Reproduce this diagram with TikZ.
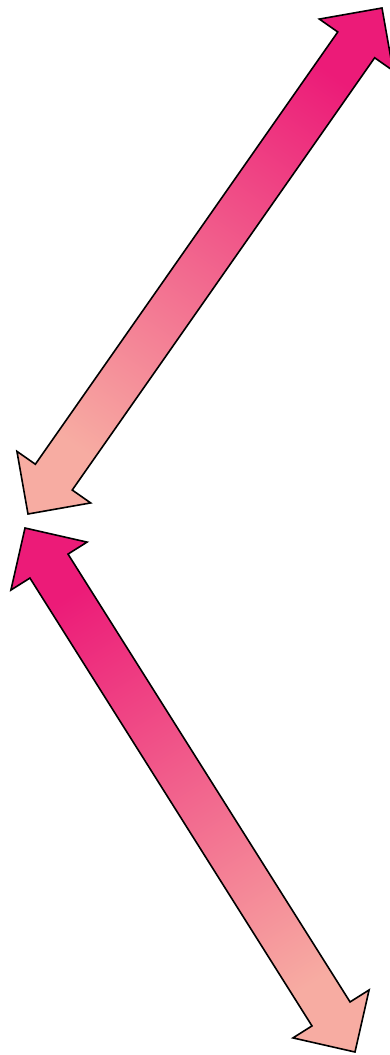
\documentclass[tikz,border=0pt]{standalone}
\usetikzlibrary{calc}
\definecolor{hotpink}{RGB}{236,27,120}
\definecolor{salmonlt}{RGB}{247,172,162}
\tikzset{
  arrowbody/.style={draw=black, line width=1.6pt, line join=miter, top color=hotpink, bottom color=salmonlt}
}
\newcommand\dblarrowpath[3]{%
  \path[arrowbody, shading angle=#3]
    (#1)
    -- ($($(#1)!45pt!(#2)$)!45pt!90:(#2)$)
    -- ($($(#1)!45pt!(#2)$)!22.5pt!90:(#2)$)
    -- ($($(#2)!45pt!(#1)$)!22.5pt!-90:(#1)$)
    -- ($($(#2)!45pt!(#1)$)!45pt!-90:(#1)$)
    -- (#2)
    -- ($($(#2)!45pt!(#1)$)!45pt!90:(#1)$)
    -- ($($(#2)!45pt!(#1)$)!22.5pt!90:(#1)$)
    -- ($($(#1)!45pt!(#2)$)!22.5pt!-90:(#2)$)
    -- ($($(#1)!45pt!(#2)$)!45pt!-90:(#2)$)
    -- cycle;}
\begin{document}
\begin{tikzpicture}[x=1pt,y=-1pt]
\useasboundingbox (0,0) rectangle (390,1055);
\coordinate (a1) at (382,8);
\coordinate (b1) at (28,514);
\coordinate (a2) at (25,528);
\coordinate (b2) at (355,1052);
\dblarrowpath{a1}{b1}{-35}
\dblarrowpath{a2}{b2}{32}
\end{tikzpicture}
\end{document}
